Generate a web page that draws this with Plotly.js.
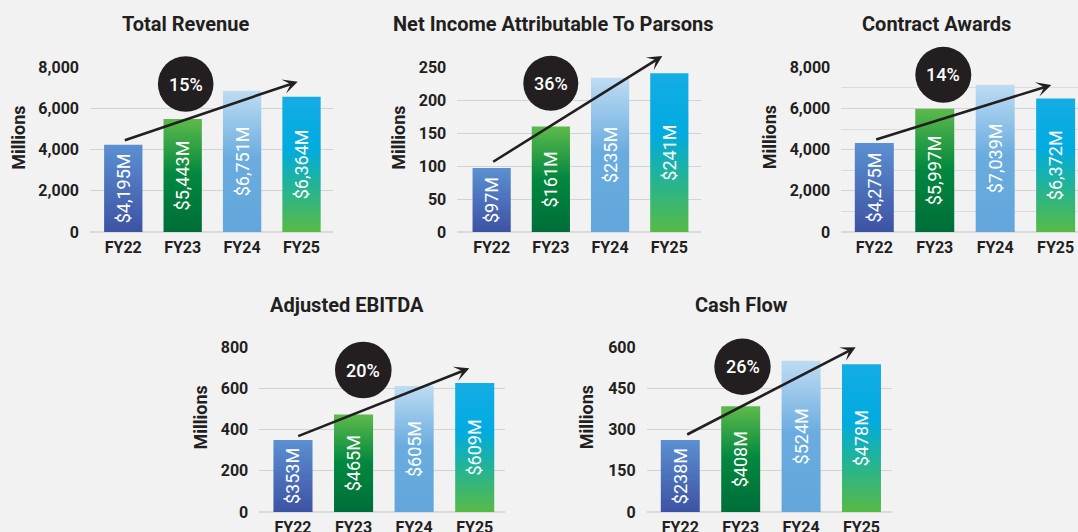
<!DOCTYPE html>
<html><head><meta charset="utf-8">
<script src="https://cdn.plot.ly/plotly-3.0.1.min.js"></script>
<style>html,body{margin:0;padding:0;background:#f2f2f2;}#chart{width:1078px;height:532px;}</style>
</head><body><div id="chart"></div>
<script>
// ---- data ----
const categories = ['FY22', 'FY23', 'FY24', 'FY25'];
const revenueValues = [4240, 5490, 6860, 6570];
const revenueLabels = ['$4,195M', '$5,443M', '$6,751M', '$6,364M'];
const netIncomeValues = [97, 160, 234, 241];
const netIncomeLabels = ['$97M', '$161M', '$235M', '$241M'];
const awardsValues = [4320, 5990, 7150, 6480];
const awardsLabels = ['$4,275M', '$5,997M', '$7,039M', '$6,372M'];
const ebitdaValues = [350, 474, 612, 627];
const ebitdaLabels = ['$353M', '$465M', '$605M', '$609M'];
const cashFlowValues = [262, 385, 551, 538];
const cashFlowLabels = ['$238M', '$408M', '$524M', '$478M'];
const chartTitles = ['Total Revenue', 'Net Income Attributable To Parsons', 'Contract Awards', 'Adjusted EBITDA', 'Cash Flow'];
const growthLabels = ['15%', '36%', '14%', '20%', '26%'];
const yAxisTitle = 'Millions';

// ---- layout helpers ----
const W = 1078, H = 532;
const X = p => p / W;
const Y = p => 1 - p / H;
const FONT = 'Roboto, Arial, sans-serif';
const DARK = '#231f20';
const fallbackColors = ['#4a6fbb', '#138a43', '#8cc1e8', '#2bb0b8'];

const panels = [
  {vals: revenueValues, labels: revenueLabels, box: [90, 333, 67.3, 232], xr: [-0.56, 3.53], yr: [0, 8000], dtick: 2000, minor: null,
   title: [185, 24.5], ytitle: [18.3, 137.5], circle: [185.7, 84, 27.8], arrow: [123.3, 140.7, 297.7, 81.7]},
  {vals: netIncomeValues, labels: netIncomeLabels, box: [457.3, 700.7, 67.3, 232], xr: [-0.58, 3.53], yr: [0, 250], dtick: 50, minor: null,
   title: [553, 24.5], ytitle: [398.3, 137.5], circle: [550.8, 83.3, 27.5], arrow: [491.7, 162.7, 662.3, 56]},
  {vals: awardsValues, labels: awardsLabels, box: [841.3, 1078, 67.3, 232], xr: [-0.546, 3.37], yr: [0, 8000], dtick: 2000, minor: 1000,
   title: [936, 24.5], ytitle: [769.7, 137.5], circle: [943.3, 74.8, 28], arrow: [874.7, 140, 1051.3, 85]},
  {vals: ebitdaValues, labels: ebitdaLabels, box: [259.3, 505, 347.3, 512], xr: [-0.556, 3.5], yr: [0, 800], dtick: 200, minor: null,
   title: [347.2, 304.5], ytitle: [200, 417.5], circle: [363.3, 370, 28.3], arrow: [296.7, 436.7, 469.3, 368.3]},
  {vals: cashFlowValues, labels: cashFlowLabels, box: [646.7, 892.3, 347.3, 512], xr: [-0.556, 3.51], yr: [0, 600], dtick: 150, minor: null,
   title: [741.2, 304.5], ytitle: [586.7, 417.5], circle: [742.5, 366.7, 28.2], arrow: [685.7, 435.3, 855.7, 347.3]}
];

const data = [];
const layout = {
  width: W, height: H,
  margin: {l: 0, r: 0, t: 0, b: 0, pad: 0},
  paper_bgcolor: '#f2f2f2', plot_bgcolor: '#f2f2f2',
  showlegend: false,
  bargap: 0.355,
  font: {family: FONT, color: DARK},
  annotations: [], shapes: []
};

panels.forEach((p, i) => {
  const n = i === 0 ? '' : String(i + 1);
  data.push({
    type: 'bar', x: categories, y: p.vals, text: p.labels,
    xaxis: 'x' + n, yaxis: 'y' + n,
    texttemplate: '%{text}', textposition: 'inside', insidetextanchor: 'middle',
    textangle: -90, constraintext: 'none',
    textfont: {family: FONT, size: 18, color: '#ffffff'},
    marker: {color: fallbackColors, line: {width: 0}},
    hoverinfo: 'skip'
  });
  layout['xaxis' + n] = {
    domain: [X(p.box[0]), X(p.box[1])], anchor: 'y' + n,
    type: 'category', categoryarray: categories, range: p.xr,
    showgrid: false, zeroline: false, showline: false, ticks: '',
    ticklabelstandoff: 4,
    tickfont: {family: FONT, size: 16, weight: 'bold', color: DARK}
  };
  const ya = {
    domain: [Y(p.box[3]), Y(p.box[2])], anchor: 'x' + n,
    range: p.yr, dtick: p.dtick, tick0: 0, tickformat: ',d',
    showgrid: true, gridcolor: '#d3d3d3', gridwidth: 1,
    zeroline: true, zerolinecolor: '#dadada', zerolinewidth: 2,
    showline: false, ticks: '', ticklabelstandoff: 10,
    tickfont: {family: FONT, size: 16, weight: 'bold', color: DARK}
  };
  if (p.minor) ya.minor = {dtick: p.minor, showgrid: true, gridcolor: '#dcdcdc', gridwidth: 1};
  layout['yaxis' + n] = ya;

  layout.annotations.push({
    xref: 'paper', yref: 'paper', x: X(p.title[0]), y: Y(p.title[1]),
    xanchor: 'center', yanchor: 'middle', showarrow: false, text: chartTitles[i],
    font: {family: FONT, size: 20, weight: 'bold', color: DARK}
  });
  layout.annotations.push({
    xref: 'paper', yref: 'paper', x: X(p.ytitle[0]), y: Y(p.ytitle[1]),
    xanchor: 'center', yanchor: 'middle', showarrow: false, text: yAxisTitle, textangle: -90,
    font: {family: FONT, size: 18, weight: 'bold', color: DARK}
  });
  const a = p.arrow;
  layout.annotations.push({
    xref: 'paper', yref: 'paper', x: X(a[2]), y: Y(a[3]),
    ax: a[0] - a[2], ay: a[1] - a[3], axref: 'pixel', ayref: 'pixel',
    showarrow: true, arrowhead: 3, arrowsize: 0.95, arrowwidth: 2.6, arrowcolor: DARK, text: '', standoff: 0
  });
  const c = p.circle;
  layout.shapes.push({
    type: 'circle', xref: 'paper', yref: 'paper', layer: 'above',
    x0: X(c[0] - c[2]), x1: X(c[0] + c[2]), y0: Y(c[1] + c[2]), y1: Y(c[1] - c[2]),
    fillcolor: DARK, line: {width: 0}
  });
  layout.annotations.push({
    xref: 'paper', yref: 'paper', x: X(c[0]), y: Y(c[1]),
    xanchor: 'center', yanchor: 'middle', showarrow: false, text: growthLabels[i],
    font: {family: FONT, size: 18, weight: 500, color: '#ffffff'}
  });
});

const gradients = [
  [[0, '#5b90d2'], [1, '#3d52a3']],
  [[0, '#5dba4b'], [0.5, '#00873f'], [1, '#006e39']],
  [[0, '#bedcf3'], [0.48, '#6aacdf'], [1, '#62a6db']],
  [[0, '#14ade4'], [0.38, '#00abe0'], [0.62, '#1db39f'], [1, '#57ba46']]
];

const gd = document.getElementById('chart');
Plotly.newPlot(gd, data, layout, {staticPlot: true, displayModeBar: false}).then(() => {
  const svg = gd.querySelector('svg.main-svg');
  const NS = 'http://www.w3.org/2000/svg';
  const defs = document.createElementNS(NS, 'defs');
  gradients.forEach((stops, k) => {
    const lg = document.createElementNS(NS, 'linearGradient');
    lg.setAttribute('id', 'barGrad' + k);
    lg.setAttribute('x1', '0'); lg.setAttribute('y1', '0');
    lg.setAttribute('x2', '0'); lg.setAttribute('y2', '1');
    stops.forEach(s => {
      const st = document.createElementNS(NS, 'stop');
      st.setAttribute('offset', s[0]);
      st.setAttribute('stop-color', s[1]);
      lg.appendChild(st);
    });
    defs.appendChild(lg);
  });
  svg.insertBefore(defs, svg.firstChild);
  gd.querySelectorAll('.barlayer .trace').forEach(tr => {
    tr.querySelectorAll('.point').forEach((pt, k) => {
      const path = pt.querySelector('path');
      if (path) path.style.fill = 'url(#barGrad' + (k % 4) + ')';
    });
  });
});
</script>
</body></html>
